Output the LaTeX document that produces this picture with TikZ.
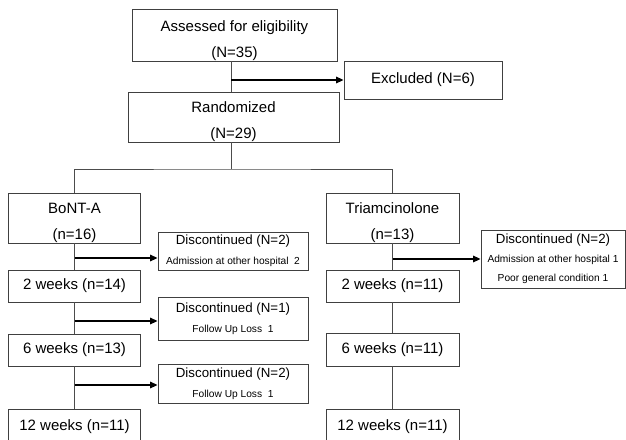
\documentclass[tikz,border=0pt]{standalone}
\usepackage{fontspec}
\setmainfont{Liberation Sans}
\usepackage{tikz}
\usetikzlibrary{arrows.meta,positioning,calc}

\tikzset{
  box/.style={draw=black!75,line width=0.8pt,align=center,inner sep=0pt,
    font=\fontsize{15}{26}\selectfont},
  disc/.style={box,font=\fontsize{13.3}{20}\selectfont},
  link/.style={draw=black!70,line width=0.8pt},
  arr/.style={draw=black,line width=1.4pt,-{Triangle[length=7.5pt,width=6.5pt]}}
}
\newcommand{\smalltxt}[1]{{\fontsize{10.2}{12}\selectfont #1}}
\newcommand{\lowered}{\rule{0pt}{21pt}}

\begin{document}
\begin{tikzpicture}[x=1pt,y=-1pt]
    \clip (0,0) rectangle (626,439);
    % enrolment
    \node[box,minimum width=205pt,minimum height=52pt] (assessed) at (234.5,35) {\rule{0pt}{23pt}Assessed for eligibility\\(N=35)};
    \node[box,minimum width=158pt,minimum height=38pt] (excluded) at (423,80) {Excluded (N=6)};
    \node[box,minimum width=211pt,minimum height=50pt] (randomized) at (233.5,117) {\lowered Randomized\\(N=29)};
    % BoNT-A arm
    \node[box,minimum width=132pt,minimum height=50pt] (bont) at (74.5,218) {\lowered BoNT-A\\(n=16)};
    \node[box,minimum width=132pt,minimum height=32pt] (bwk2) at (74.5,286) {2 weeks (n=14)};
    \node[box,minimum width=132pt,minimum height=32pt] (bwk6) at (74.5,350) {6 weeks (n=13)};
    \node[box,minimum width=132pt,minimum height=36pt] (bwk12) at (74.5,427) {12 weeks (n=11)};
    \node[disc,minimum width=150pt,minimum height=38pt] (bdisc1) at (233,251) {Discontinued (N=2)\\\smalltxt{Admission at other hospital~~2}};
    \node[disc,minimum width=150pt,minimum height=43pt] (bdisc2) at (233,318.5) {Discontinued (N=1)\\\smalltxt{Follow Up Loss~~1}};
    \node[disc,minimum width=150pt,minimum height=39pt] (bdisc3) at (233,383.5) {Discontinued (N=2)\\\smalltxt{Follow Up Loss~~1}};
    % Triamcinolone arm
    \node[box,minimum width=133pt,minimum height=50pt] (tria) at (392.5,218) {\lowered Triamcinolone\\(n=13)};
    \node[box,minimum width=133pt,minimum height=32pt] (twk2) at (392.5,286) {2 weeks (n=11)};
    \node[box,minimum width=133pt,minimum height=33pt] (twk6) at (392.5,349.5) {6 weeks (n=11)};
    \node[box,minimum width=133pt,minimum height=36pt] (twk12) at (392.5,427) {12 weeks (n=11)};
    \node[disc,minimum width=144pt,minimum height=58pt,font=\fontsize{13.3}{19}\selectfont] (tdisc) at (553,259) {Discontinued (N=2)\\\smalltxt{Admission at other hospital 1}\\\smalltxt{Poor general condition 1}};
    % connectors
    \coordinate (split) at (231,169);
    \coordinate (exfork) at (231,80);
    \draw[link] (assessed.south -| split) -- (randomized.north -| split);
    \draw[arr] (exfork) -- (excluded.west);
    \draw[link] (randomized.south -| split) -- (split);
    \draw[link] (bont.north) |- (split) -| (tria.north);
    \draw[link] (bont) -- (bwk2);
    \draw[link] (bwk2) -- (bwk6);
    \draw[link] (bwk6) -- (bwk12);
    \draw[link] (tria) -- (twk2);
    \draw[link] (twk2) -- (twk6);
    \draw[link] (twk6) -- (twk12);
    \coordinate (bfork1) at (74.5,258);
    \coordinate (bfork2) at (74.5,321);
    \coordinate (bfork3) at (74.5,385);
    \coordinate (tfork) at (392.5,259);
    \draw[arr] (bfork1) -- (bfork1 -| bdisc1.west);
    \draw[arr] (bfork2) -- (bfork2 -| bdisc2.west);
    \draw[arr] (bfork3) -- (bfork3 -| bdisc3.west);
    \draw[arr] (tfork) -- (tdisc.west);
\end{tikzpicture}
\end{document}
